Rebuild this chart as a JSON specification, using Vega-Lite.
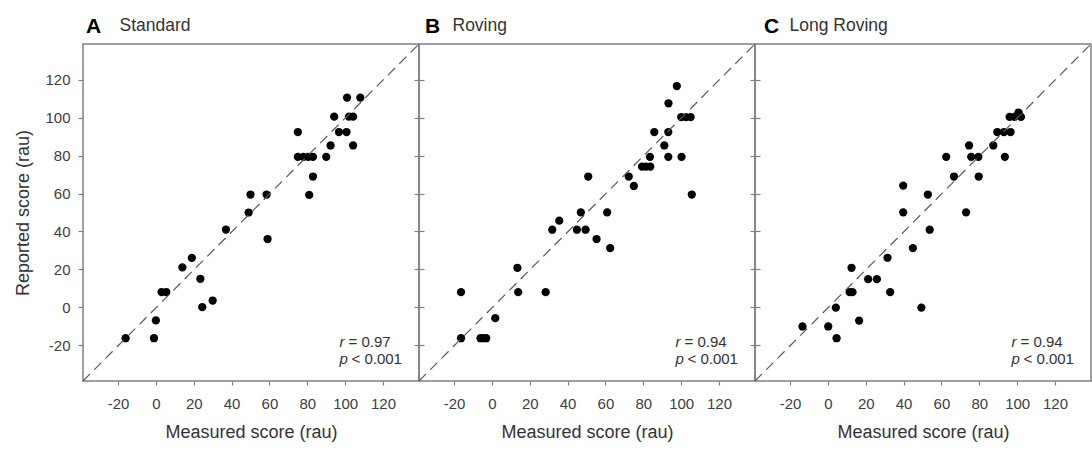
{
  "$schema": "https://vega.github.io/schema/vega-lite/v6.json",
  "background": "white",
  "padding": {"left": 14, "top": 15, "right": 0, "bottom": 0},
  "spacing": 0,
  "bounds": "flush",
  "config": {
    "font": "Liberation Sans",
    "view": {"stroke": "#808080", "strokeWidth": 1.5},
    "axis": {"grid": false, "domain": false, "tickColor": "#808080", "tickSize": 5, "tickWidth": 1.2, "labelFont": "Liberation Sans", "labelFontSize": 15, "labelColor": "#404040", "labelPadding": 8, "labelExpr": "'' + datum.value", "titleFont": "Liberation Sans", "titleFontSize": 18, "titleFontWeight": "normal", "titleColor": "#333333"},
    "title": {"font": "Liberation Sans", "anchor": "start", "baseline": "alphabetic", "frame": "group", "fontSize": 21, "fontWeight": "bold", "color": "#000000", "offset": 0, "dy": 25},
    "concat": {"spacing": 0}
  },
  "datasets": {
    "one": [{}],
    "standard": [
      {"m": -16, "r": -16.4}, {"m": -1, "r": -16.4}, {"m": 0, "r": -7}, {"m": 3, "r": 8}, {"m": 5.5, "r": 8},
      {"m": 14, "r": 21}, {"m": 19, "r": 26}, {"m": 23.5, "r": 15}, {"m": 24.5, "r": 0}, {"m": 30, "r": 3.5},
      {"m": 37, "r": 41}, {"m": 49, "r": 50}, {"m": 50, "r": 59.5}, {"m": 58.5, "r": 59.5}, {"m": 59, "r": 36},
      {"m": 75, "r": 92.5}, {"m": 75, "r": 79.4}, {"m": 78, "r": 79.4}, {"m": 80.5, "r": 79.4}, {"m": 83, "r": 79.4},
      {"m": 90, "r": 79.4}, {"m": 83, "r": 69}, {"m": 81, "r": 59.3}, {"m": 92.3, "r": 85.4}, {"m": 104.2, "r": 85.4},
      {"m": 96.7, "r": 92.5}, {"m": 100.7, "r": 92.5}, {"m": 94.2, "r": 100.6}, {"m": 102, "r": 100.6}, {"m": 104.2, "r": 100.6},
      {"m": 101, "r": 110.7}, {"m": 108, "r": 110.7}
    ],
    "roving": [
      {"m": -16.3, "r": 7.9}, {"m": -16.3, "r": -16.4}, {"m": -6, "r": -16.4}, {"m": -4.5, "r": -16.4}, {"m": -3, "r": -16.4},
      {"m": 1.8, "r": -5.8}, {"m": 13.5, "r": 20.8}, {"m": 13.9, "r": 7.9}, {"m": 28.4, "r": 7.9}, {"m": 31.9, "r": 40.9},
      {"m": 35.6, "r": 45.7}, {"m": 44.9, "r": 40.9}, {"m": 47, "r": 50.1}, {"m": 49.5, "r": 40.9}, {"m": 50.9, "r": 69},
      {"m": 55.3, "r": 36}, {"m": 60.9, "r": 50.1}, {"m": 62.5, "r": 31.2}, {"m": 72.3, "r": 69}, {"m": 75, "r": 64},
      {"m": 79.3, "r": 74.2}, {"m": 81.4, "r": 74.2}, {"m": 83.7, "r": 74.2}, {"m": 83.5, "r": 79.4}, {"m": 91.1, "r": 85.4},
      {"m": 93.2, "r": 79.4}, {"m": 100.2, "r": 79.4}, {"m": 85.8, "r": 92.5}, {"m": 93.2, "r": 92.5}, {"m": 93.3, "r": 107.7},
      {"m": 97.7, "r": 116.8}, {"m": 100, "r": 100.4}, {"m": 102.5, "r": 100.4}, {"m": 105, "r": 100.4}, {"m": 105.6, "r": 59.5}
    ],
    "longroving": [
      {"m": -13.4, "r": -10.2}, {"m": 0.2, "r": -10.2}, {"m": 4.6, "r": -16.4}, {"m": 4.2, "r": -0.2}, {"m": 16.5, "r": -7.1},
      {"m": 11.5, "r": 7.9}, {"m": 13, "r": 7.9}, {"m": 12.5, "r": 20.8}, {"m": 21.3, "r": 14.8}, {"m": 25.9, "r": 14.8},
      {"m": 31.5, "r": 26.1}, {"m": 32.9, "r": 7.9}, {"m": 39.8, "r": 64.2}, {"m": 39.8, "r": 50.1}, {"m": 44.9, "r": 31.2},
      {"m": 49.4, "r": -0.2}, {"m": 52.8, "r": 59.5}, {"m": 53.8, "r": 40.9}, {"m": 62.5, "r": 79.4}, {"m": 66.6, "r": 69},
      {"m": 73, "r": 50.1}, {"m": 74.6, "r": 85.4}, {"m": 75.7, "r": 79.4}, {"m": 79.5, "r": 79.4}, {"m": 79.7, "r": 69},
      {"m": 87.4, "r": 85.4}, {"m": 89.5, "r": 92.5}, {"m": 93, "r": 92.5}, {"m": 96.5, "r": 92.5}, {"m": 93.5, "r": 79.4},
      {"m": 96, "r": 100.5}, {"m": 98.6, "r": 100.5}, {"m": 100.7, "r": 102.8}, {"m": 102, "r": 100.5}
    ]
  },
  "hconcat": [
    {
      "width": 336, "height": 337,
      "title": {"text": "A", "dx": 3},
      "layer": [
        {
          "layer": [
            {
              "data": {"name": "standard"},
              "mark": {"type": "circle", "size": 68, "color": "#000000", "opacity": 1},
              "encoding": {
                "x": {"field": "m", "type": "quantitative", "scale": {"domain": [-38.5, 139], "nice": false, "zero": false}, "axis": {"values": [-20, 0, 20, 40, 60, 80, 100, 120], "title": "Measured score (rau)", "tickSize": 4, "labelPadding": 11, "titlePadding": 12}},
                "y": {"field": "r", "type": "quantitative", "scale": {"domain": [-39, 139], "nice": false, "zero": false}, "axis": {"values": [-20, 0, 20, 40, 60, 80, 100, 120], "title": "Reported score (rau)", "labelPadding": 8, "titlePadding": 12}}
              }
            },
            {"data": {"name": "one"}, "mark": {"type": "text", "align": "left", "baseline": "alphabetic", "fontSize": 15, "fontStyle": "italic", "color": "#333333"}, "encoding": {"x": {"datum": 97}, "y": {"datum": -21}, "text": {"value": "r"}}},
            {"data": {"name": "one"}, "mark": {"type": "text", "align": "left", "baseline": "alphabetic", "fontSize": 15, "color": "#333333", "dx": 9}, "encoding": {"x": {"datum": 97}, "y": {"datum": -21}, "text": {"value": "= 0.97"}}},
            {"data": {"name": "one"}, "mark": {"type": "text", "align": "left", "baseline": "alphabetic", "fontSize": 15, "fontStyle": "italic", "color": "#333333"}, "encoding": {"x": {"datum": 97}, "y": {"datum": -30}, "text": {"value": "p"}}},
            {"data": {"name": "one"}, "mark": {"type": "text", "align": "left", "baseline": "alphabetic", "fontSize": 15, "color": "#333333", "dx": 12}, "encoding": {"x": {"datum": 97}, "y": {"datum": -30}, "text": {"value": "< 0.001"}}}
          ]
        },
        {
          "data": {"name": "one"},
          "mark": {"type": "rule", "color": "#5a5a5a", "strokeWidth": 1.2, "strokeDash": [10, 6]},
          "encoding": {
            "x": {"datum": -38.5, "type": "quantitative", "scale": {"domain": [-38.5, 139], "nice": false, "zero": false}, "axis": {"orient": "top", "ticks": false, "labels": false, "title": "Standard", "titleAnchor": "start", "titleAlign": "left", "titleX": 36, "titleY": -14, "titleBaseline": "alphabetic", "titleFontSize": 17.5, "titleColor": "#333333"}},
            "x2": {"datum": 139},
            "y": {"datum": -39, "type": "quantitative", "scale": {"domain": [-39, 139], "nice": false, "zero": false}, "axis": {"orient": "right", "values": [-20, 0, 20, 40, 60, 80, 100, 120], "labels": false, "title": null, "tickSize": -5}},
            "y2": {"datum": 139}
          }
        }
      ],
      "resolve": {"scale": {"x": "independent", "y": "independent"}}
    },
    {
      "width": 336, "height": 337,
      "title": {"text": "B", "dx": 6},
      "layer": [
        {
          "layer": [
            {
              "data": {"name": "roving"},
              "mark": {"type": "circle", "size": 68, "color": "#000000", "opacity": 1},
              "encoding": {
                "x": {"field": "m", "type": "quantitative", "scale": {"domain": [-38.5, 139], "nice": false, "zero": false}, "axis": {"values": [-20, 0, 20, 40, 60, 80, 100, 120], "title": "Measured score (rau)", "tickSize": 4, "labelPadding": 11, "titlePadding": 12}},
                "y": {"field": "r", "type": "quantitative", "scale": {"domain": [-39, 139], "nice": false, "zero": false}, "axis": {"values": [-20, 0, 20, 40, 60, 80, 100, 120], "labels": false, "title": null, "tickSize": -5}}
              }
            },
            {"data": {"name": "one"}, "mark": {"type": "text", "align": "left", "baseline": "alphabetic", "fontSize": 15, "fontStyle": "italic", "color": "#333333"}, "encoding": {"x": {"datum": 97}, "y": {"datum": -21}, "text": {"value": "r"}}},
            {"data": {"name": "one"}, "mark": {"type": "text", "align": "left", "baseline": "alphabetic", "fontSize": 15, "color": "#333333", "dx": 9}, "encoding": {"x": {"datum": 97}, "y": {"datum": -21}, "text": {"value": "= 0.94"}}},
            {"data": {"name": "one"}, "mark": {"type": "text", "align": "left", "baseline": "alphabetic", "fontSize": 15, "fontStyle": "italic", "color": "#333333"}, "encoding": {"x": {"datum": 97}, "y": {"datum": -30}, "text": {"value": "p"}}},
            {"data": {"name": "one"}, "mark": {"type": "text", "align": "left", "baseline": "alphabetic", "fontSize": 15, "color": "#333333", "dx": 12}, "encoding": {"x": {"datum": 97}, "y": {"datum": -30}, "text": {"value": "< 0.001"}}}
          ]
        },
        {
          "data": {"name": "one"},
          "mark": {"type": "rule", "color": "#5a5a5a", "strokeWidth": 1.2, "strokeDash": [10, 6]},
          "encoding": {
            "x": {"datum": -38.5, "type": "quantitative", "scale": {"domain": [-38.5, 139], "nice": false, "zero": false}, "axis": {"orient": "top", "ticks": false, "labels": false, "title": "Roving", "titleAnchor": "start", "titleAlign": "left", "titleX": 33, "titleY": -14, "titleBaseline": "alphabetic", "titleFontSize": 17.5, "titleColor": "#333333"}},
            "x2": {"datum": 139},
            "y": {"datum": -39, "type": "quantitative", "scale": {"domain": [-39, 139], "nice": false, "zero": false}, "axis": {"orient": "right", "values": [-20, 0, 20, 40, 60, 80, 100, 120], "labels": false, "title": null, "tickSize": -5}},
            "y2": {"datum": 139}
          }
        }
      ],
      "resolve": {"scale": {"x": "independent", "y": "independent"}}
    },
    {
      "width": 336, "height": 337,
      "title": {"text": "C", "dx": 9},
      "layer": [
        {
          "layer": [
            {
              "data": {"name": "longroving"},
              "mark": {"type": "circle", "size": 68, "color": "#000000", "opacity": 1},
              "encoding": {
                "x": {"field": "m", "type": "quantitative", "scale": {"domain": [-38.5, 139], "nice": false, "zero": false}, "axis": {"values": [-20, 0, 20, 40, 60, 80, 100, 120], "title": "Measured score (rau)", "tickSize": 4, "labelPadding": 11, "titlePadding": 12}},
                "y": {"field": "r", "type": "quantitative", "scale": {"domain": [-39, 139], "nice": false, "zero": false}, "axis": {"values": [-20, 0, 20, 40, 60, 80, 100, 120], "labels": false, "title": null, "tickSize": -5}}
              }
            },
            {"data": {"name": "one"}, "mark": {"type": "text", "align": "left", "baseline": "alphabetic", "fontSize": 15, "fontStyle": "italic", "color": "#333333"}, "encoding": {"x": {"datum": 97}, "y": {"datum": -21}, "text": {"value": "r"}}},
            {"data": {"name": "one"}, "mark": {"type": "text", "align": "left", "baseline": "alphabetic", "fontSize": 15, "color": "#333333", "dx": 9}, "encoding": {"x": {"datum": 97}, "y": {"datum": -21}, "text": {"value": "= 0.94"}}},
            {"data": {"name": "one"}, "mark": {"type": "text", "align": "left", "baseline": "alphabetic", "fontSize": 15, "fontStyle": "italic", "color": "#333333"}, "encoding": {"x": {"datum": 97}, "y": {"datum": -30}, "text": {"value": "p"}}},
            {"data": {"name": "one"}, "mark": {"type": "text", "align": "left", "baseline": "alphabetic", "fontSize": 15, "color": "#333333", "dx": 12}, "encoding": {"x": {"datum": 97}, "y": {"datum": -30}, "text": {"value": "< 0.001"}}}
          ]
        },
        {
          "data": {"name": "one"},
          "mark": {"type": "rule", "color": "#5a5a5a", "strokeWidth": 1.2, "strokeDash": [10, 6]},
          "encoding": {
            "x": {"datum": -38.5, "type": "quantitative", "scale": {"domain": [-38.5, 139], "nice": false, "zero": false}, "axis": {"orient": "top", "ticks": false, "labels": false, "title": "Long Roving", "titleAnchor": "start", "titleAlign": "left", "titleX": 34, "titleY": -14, "titleBaseline": "alphabetic", "titleFontSize": 17.5, "titleColor": "#333333"}},
            "x2": {"datum": 139},
            "y": {"datum": -39, "type": "quantitative", "scale": {"domain": [-39, 139], "nice": false, "zero": false}, "axis": null},
            "y2": {"datum": 139}
          }
        }
      ],
      "resolve": {"scale": {"x": "independent", "y": "independent"}}
    }
  ]
}
